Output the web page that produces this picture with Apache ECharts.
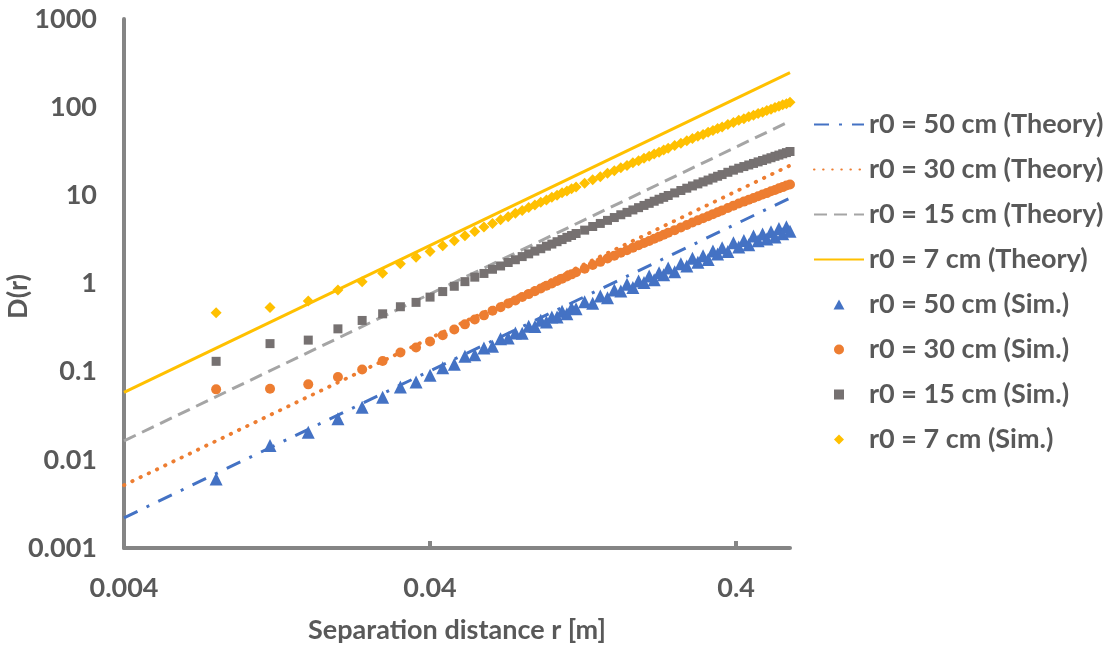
<!DOCTYPE html>
<html>
<head>
<meta charset="utf-8">
<script src="https://cdn.jsdelivr.net/npm/echarts@6/dist/echarts.min.js"></script>
<style>
html,body{margin:0;padding:0;background:#fff;}
#chart{width:1117px;height:647px;}
</style>
</head>
<body>
<div id="chart"></div>
<script>
// ---- data ----
const xTickValues = [0.004, 0.04, 0.4];
const xTickLabels = ['0.004', '0.04', '0.4'];
const yTickValues = [0.001, 0.01, 0.1, 1, 10, 100, 1000];
const yTickLabels = ['0.001', '0.01', '0.1', '1', '10', '100', '1000'];

const seriesNames = [
  'r0 = 50 cm (Theory)', 'r0 = 30 cm (Theory)', 'r0 = 15 cm (Theory)', 'r0 = 7 cm (Theory)',
  'r0 = 50 cm (Sim.)', 'r0 = 30 cm (Sim.)', 'r0 = 15 cm (Sim.)', 'r0 = 7 cm (Sim.)'
];

// theory lines (straight on log-log): end points
const rTheory = [0.004, 0.6];
const theory50 = [0.0022, 9.32];
const theory30 = [0.00516, 21.8];
const theory15 = [0.0164, 69.4];
const theory7  = [0.0583, 247];

// simulation separations
const rSim = [0.008,0.012,0.016,0.020,0.024,0.028,0.032,0.036,0.040,0.044,0.048,0.052,0.056,0.060,0.064,0.068,0.072,0.076,0.080,0.084,0.088,0.092,0.096,0.100,0.104,0.108,0.112,0.116,0.120,
  0.128,0.136,0.144,0.152,0.160,0.168,0.176,0.184,0.192,0.200,0.208,0.216,0.224,0.232,0.240,
  0.252,0.264,0.276,0.288,0.300,0.312,0.324,0.336,0.348,0.360,
  0.376,0.392,0.408,0.424,0.440,0.456,0.472,0.488,0.504,0.520,0.536,0.552,0.568,0.584,0.600];

const sim50 = [0.00605,0.0145,0.0206,0.0292,0.0395,0.0514,0.0668,0.0762,0.0908,
  0.111,0.121,0.150,0.156,0.185,0.194,0.237,0.241,0.274,0.272,0.327,0.326,0.384,0.366,0.416,0.417,0.484,0.454,0.529,0.518,
  0.622,0.598,0.721,0.691,0.844,0.820,0.980,0.900,1.066,1.029,1.219,1.106,1.327,1.260,1.500,
  1.363,1.674,1.575,1.935,1.740,2.063,1.876,2.344,2.160,2.539,
  2.313,2.896,2.595,3.078,2.749,3.450,3.061,3.642,3.198,3.865,3.379,4.192,3.667,4.400,3.921];

const sim30 = [0.063,0.0641,0.0718,0.0869,0.106,0.132,0.165,0.188,0.220,
  0.259,0.301,0.344,0.391,0.435,0.490,0.538,0.593,0.643,0.702,0.758,0.819,0.877,0.942,1.00,1.07,1.13,1.20,1.27,1.34,
  1.47,1.62,1.76,1.92,2.07,2.23,2.38,2.55,2.71,2.88,3.04,3.22,3.40,3.58,3.76,
  4.03,4.32,4.61,4.91,5.20,5.49,5.79,6.12,6.44,6.75,
  7.19,7.64,8.08,8.49,8.91,9.33,9.77,10.2,10.6,11.1,11.5,12.0,12.4,12.9,13.3];

const sim15 = [0.131,0.208,0.228,0.306,0.381,0.453,0.545,0.611,0.701,
  0.81,0.93,1.05,1.18,1.30,1.45,1.58,1.73,1.86,2.02,2.17,2.33,2.48,2.65,2.80,2.98,3.15,3.34,3.50,3.69,
  4.03,4.43,4.80,5.20,5.60,6.02,6.41,6.83,7.25,7.68,8.11,8.57,9.03,9.48,9.95,
  10.65,11.35,12.05,12.78,13.48,14.2,14.9,15.7,16.45,17.2,
  18.25,19.3,20.3,21.2,22.1,23.0,23.95,24.85,25.8,26.7,27.7,28.6,29.6,30.5,31.4];

const sim7 = [0.466,0.536,0.632,0.843,1.05,1.31,1.67,1.99,2.30,
  2.68,3.05,3.49,3.88,4.37,4.79,5.29,5.73,6.27,6.72,7.30,7.77,8.37,8.86,9.50,10.0,10.7,11.2,11.9,12.4,
  13.7,15.0,16.2,17.8,19.0,20.6,21.8,23.4,24.7,26.4,27.7,29.5,30.9,32.7,34.1,
  36.8,39.0,41.7,44.0,46.8,49.0,51.9,54.3,57.3,59.6,
  63.7,67.0,71.0,73.9,77.9,80.8,84.9,87.8,91.9,94.9,99.1,102.1,106.4,109.4,113.5];

// ---- build ----
const pairs = (xs, ys) => xs.map((x, i) => [x, ys[i]]);
const FONT = 'Lato';
const TXT = '#595959';
const AX = '#858585';
const FS = 27;

function lookup(vals, labels, v) {
  let best = 0, bd = Infinity;
  vals.forEach((t, i) => { const d = Math.abs(Math.log10(t) - Math.log10(v)); if (d < bd) { bd = d; best = i; } });
  return bd < 0.01 ? labels[best] : '';
}

const theoryStyles = [
  { color: '#4472C4', type: [15, 10, 3, 10], cap: 'butt' },
  { color: '#ED7D31', type: [0.5, 8.6], cap: 'round', width: 3.8 },
  { color: '#A5A5A5', type: [13, 7], cap: 'butt' },
  { color: '#FFC000', type: 'solid', cap: 'butt' }
];
const theoryData = [theory50, theory30, theory15, theory7];
const simData = [sim50, sim30, sim15, sim7];
const simStyles = [
  { color: '#4472C4', symbol: 'triangle', size: 13, icon: 'path://M6,0 L12,11 L0,11 Z' },
  { color: '#ED7D31', symbol: 'circle', size: 10, icon: 'path://M4,0 A4,4 0 1 1 4,8 A4,4 0 1 1 4,0 Z' },
  { color: '#767171', symbol: 'rect', size: 9, icon: 'path://M0,0 L7,0 L7,7 L0,7 Z' },
  { color: '#FFC000', symbol: 'diamond', size: 11, icon: 'path://M4,0 L8,4 L4,8 L0,4 Z' }
];

const series = [];
theoryData.forEach((d, i) => {
  const s = theoryStyles[i];
  series.push({
    name: seriesNames[i], type: 'line', data: pairs(rTheory, d),
    symbol: 'none', showSymbol: false, silent: true, z: 2,
    lineStyle: { color: s.color, width: s.width || 3, type: s.type, cap: s.cap },
    itemStyle: { color: s.color }
  });
});
simData.forEach((d, i) => {
  const s = simStyles[i];
  series.push({
    name: seriesNames[4 + i], type: 'scatter', data: pairs(rSim, d),
    symbol: s.symbol, symbolSize: s.size, symbolKeepAspect: true, z: 3,
    itemStyle: { color: s.color, opacity: 1 }
  });
});

const legendData = seriesNames.map((n, i) => i < 4
  ? { name: n, itemStyle: { opacity: 0 } }
  : { name: n, icon: simStyles[i - 4].icon });

const chart = echarts.init(document.getElementById('chart'), null, { renderer: 'canvas' });
chart.setOption({
  animation: false,
  backgroundColor: '#ffffff',
  grid: { left: 124, top: 19, width: 666, height: 529, outerBoundsMode: 'none', containLabel: false },
  xAxis: {
    type: 'log', logBase: 10, min: 0.004, max: 0.6,
    name: 'Separation distance r [m]', nameLocation: 'middle', nameGap: 69, nameMoveOverlap: false,
    nameTextStyle: { color: TXT, fontFamily: FONT, fontSize: FS, fontWeight: 'bold' },
    axisLine: { show: true, lineStyle: { color: AX, width: 4 } },
    axisTick: { show: true, inside: true, length: 7, lineStyle: { color: AX, width: 4 }, customValues: [0.04, 0.4] },
    axisLabel: {
      show: true, margin: 27, color: TXT, fontFamily: FONT, fontSize: FS, fontWeight: 'bold',
      customValues: xTickValues,
      formatter: v => lookup(xTickValues, xTickLabels, v)
    },
    splitLine: { show: false }, minorTick: { show: false }, minorSplitLine: { show: false }
  },
  yAxis: {
    type: 'log', logBase: 10, min: 0.001, max: 1000,
    name: 'D(r)', nameLocation: 'middle', nameGap: 92, nameRotate: 90, nameMoveOverlap: false,
    nameTextStyle: { color: TXT, fontFamily: FONT, fontSize: FS, fontWeight: 'bold', padding: [0, 26, 0, 0] },
    axisLine: { show: true, lineStyle: { color: AX, width: 4 } },
    axisTick: { show: false },
    axisLabel: {
      show: true, margin: 27, color: TXT, fontFamily: FONT, fontSize: FS, fontWeight: 'bold',
      customValues: yTickValues,
      formatter: v => lookup(yTickValues, yTickLabels, v)
    },
    splitLine: { show: false }, minorTick: { show: false }, minorSplitLine: { show: false }
  },
  legend: {
    show: true, orient: 'vertical', left: 813, top: 111, padding: 0,
    itemWidth: 50, itemHeight: 10, itemGap: 18, symbolKeepAspect: true,
    data: legendData,
    textStyle: { color: TXT, fontFamily: FONT, fontSize: FS, fontWeight: 'bold' },
    selectedMode: false
  },
  tooltip: { show: false },
  series: series
});
</script>
</body>
</html>
